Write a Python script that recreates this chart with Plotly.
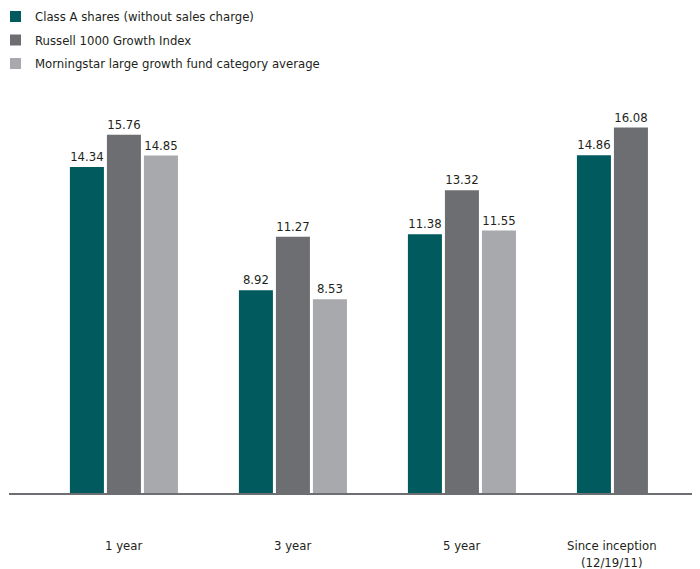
import plotly.graph_objects as go

categories = ["1 year", "3 year", "5 year", "Since inception<br>(12/19/11)"]
series_names = [
    "Class A shares (without sales charge)",
    "Russell 1000 Growth Index",
    "Morningstar large growth fund category average",
]
class_a = [14.34, 8.92, 11.38, 14.86]
russell = [15.76, 11.27, 13.32, 16.08]
morningstar = [14.85, 8.53, 11.55, None]

colors = ["#005a5e", "#6d6e71", "#a7a9ac"]
FONT = "DejaVu Sans Condensed, Liberation Sans Narrow, Arial Narrow, sans-serif"
TXT = "#231f20"

fig = go.Figure()
for name, vals, col in zip(series_names, [class_a, russell, morningstar], colors):
    fig.add_trace(go.Bar(
        x=categories, y=vals, name=name, showlegend=False,
        marker=dict(color=col, line=dict(width=0)),
        text=[("%.2f" % v) if v is not None else "" for v in vals],
        textposition="outside", constraintext="none", cliponaxis=False,
        textfont=dict(family=FONT, size=13, color=TXT),
        hoverinfo="skip",
    ))

# manual legend at the top-left (squares + labels), pixel-sized
for k, (name, col) in enumerate(zip(series_names, colors)):
    top = 77 - k * 23.5
    fig.add_shape(
        type="rect", xref="paper", yref="paper",
        xsizemode="pixel", ysizemode="pixel", xanchor=0, yanchor=1,
        x0=1, x1=12, y0=top - 11, y1=top,
        fillcolor=col, line=dict(width=0),
    )
    fig.add_annotation(
        xref="paper", yref="paper", x=0, y=1, xanchor="left", yanchor="middle",
        xshift=24, yshift=top - 5.5, showarrow=False, text=name,
        font=dict(family=FONT, size=13, color=TXT),
    )

# category labels as annotations (last group has only two bars)
for i, c in enumerate(categories):
    n = sum(1 for s in [class_a, russell, morningstar] if s[i] is not None)
    fig.add_annotation(
        x=c, xref="x", y=0, yref="paper", yanchor="top",
        yshift=-43, xshift=-(3 - n) * 18.5, showarrow=False,
        text=c, font=dict(family=FONT, size=13, color=TXT), align="center",
    )

fig.update_layout(
    width=700, height=569,
    margin=dict(l=1, r=0, t=80, b=84, autoexpand=False),
    paper_bgcolor="white", plot_bgcolor="white",
    barmode="group", bargap=0.343, bargroupgap=0.081,
    showlegend=False,
    xaxis=dict(
        range=[-0.680, 3.456], showticklabels=False, ticks="",
        showline=True, linecolor="#6d6e71", linewidth=2, showgrid=False,
        zeroline=False, fixedrange=True,
    ),
    yaxis=dict(range=[0, 17.82], visible=False, showgrid=False, fixedrange=True),
)

fig.write_html("out.html")
